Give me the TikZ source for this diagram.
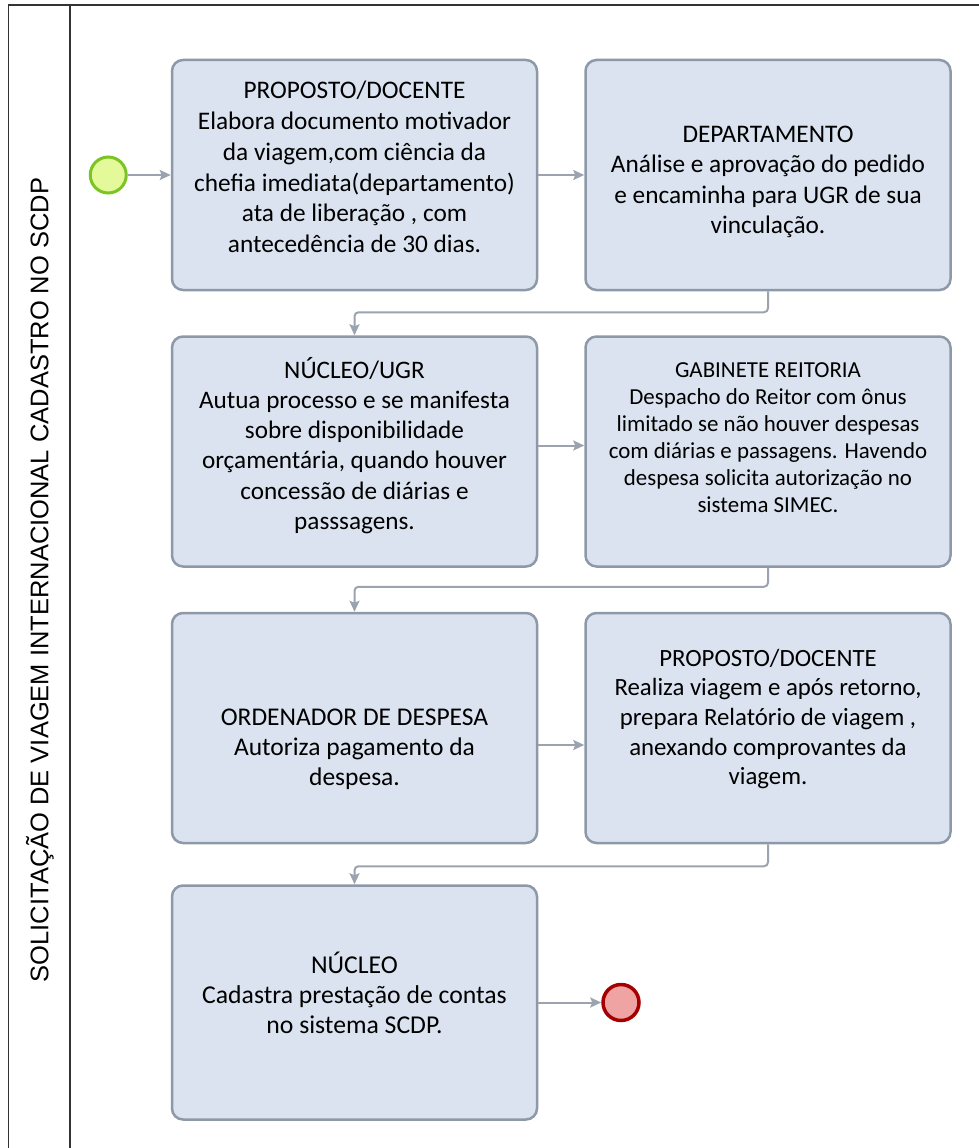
\documentclass[tikz,border=0pt]{standalone}
\usepackage{fontspec}
\setmainfont{Carlito}
\newfontfamily\titlefont{Liberation Sans}
\usetikzlibrary{arrows.meta,positioning}
\definecolor{boxfill}{HTML}{DAE3EF}
\definecolor{boxline}{HTML}{8E99A8}
\definecolor{flowgray}{HTML}{9AA3AE}
\definecolor{startfill}{HTML}{E4F99A}
\definecolor{startline}{HTML}{7CC423}
\definecolor{endfill}{HTML}{EFA3A3}
\definecolor{endline}{HTML}{A50000}

\begin{document}
\begin{tikzpicture}[x=1pt,y=-1pt,>={Stealth[length=11pt,width=10pt,inset=2pt]},
  box/.style={draw=boxline,line width=2.5pt,fill=boxfill,rounded corners=11pt,minimum width=365pt,minimum height=230pt,inner sep=0pt},
  txt/.style 2 args={align=center,font=\fontsize{#1}{#2}\selectfont},
  flow/.style={->,draw=flowgray,line width=2pt,rounded corners=4pt},
  event/.style={circle,minimum size=36pt,inner sep=0pt,line width=3pt},
  node distance=44pt and 46pt]
\useasboundingbox (0,0) rectangle (979,1148);
% raia
\draw[line width=1.6pt,black!80] (979,5) -- (8.5,5) -- (8.5,1148) (70,5) -- (70,1148);
\node[rotate=90,font=\titlefont\fontsize{25.5}{30}\selectfont] (lane) at (40,580) {SOLICITAÇÃO DE VIAGEM INTERNACIONAL CADASTRO NO SCDP};
% atividades
\node[box] (pd1) at (354.5,175) {};
\node[txt={25.3}{30.8}] (pd1-t) at ([yshift=8pt]pd1.center) {PROPOSTO/DOCENTE\\Elabora documento motivador\\da viagem,com ciência da\\chefia imediata(departamento)\\ata de liberação , com\\antecedência de 30 dias.};
\node[box,right=of pd1] (dep) {};
\node[txt={25.3}{30.5}] (dep-t) at ([yshift=-7pt]dep.center) {DEPARTAMENTO\\Análise e aprovação do pedido\\e encaminha para UGR de sua\\vinculação.};
\node[box,below=of pd1] (nuc) {};
\node[txt={25.2}{30.2}] (nuc-t) at ([yshift=6pt]nuc.center) {NÚCLEO/UGR\\Autua processo e se manifesta\\sobre disponibilidade\\orçamentária, quando houver\\concessão de diárias e\\passsagens.};
\node[box,right=of nuc] (gab) {};
\node[txt={22.9}{27}] (gab-t) at ([yshift=14pt]gab.center) {GABINETE REITORIA\\Despacho do Reitor com ônus\\limitado se não houver despesas\\com diárias e passagens. Havendo\\despesa solicita autorização no\\sistema SIMEC.};
\node[box,below=of nuc] (ord) {};
\node[txt={25.5}{30}] (ord-t) at ([yshift=-21pt]ord.center) {ORDENADOR DE DESPESA\\Autoriza pagamento da\\despesa.};
\node[box,right=of ord] (pd2) {};
\node[txt={24.8}{29.7}] (pd2-t) at ([yshift=9pt]pd2.center) {PROPOSTO/DOCENTE\\Realiza viagem e após retorno,\\prepara Relatório de viagem ,\\anexando comprovantes da\\viagem.};
\node[box,below=40pt of ord,minimum height=234pt] (nuc2) {};
\node[txt={25.7}{30}] (nuc2-t) at ([yshift=10pt]nuc2.center) {NÚCLEO\\Cadastra prestação de contas\\no sistema SCDP.};
% eventos
\node[event,fill=startfill,draw=startline,left=43pt of pd1] (inicio) {};
\node[event,fill=endfill,draw=endline,line width=3.5pt,right=63pt of nuc2] (fim) {};
% fluxo
\draw[flow] (inicio) -- (pd1);
\draw[flow] (pd1) -- (dep);
\draw[flow] (dep.south) -- ++(0,21) -| (nuc.north);
\draw[flow] ([yshift=6pt]nuc.east) -- ([yshift=6pt]nuc.east -| gab.west);
\draw[flow] (gab.south) -- ++(0,19) -| (ord.north);
\draw[flow] ([yshift=-17pt]ord.east) -- ([yshift=-17pt]ord.east -| pd2.west);
\draw[flow] (pd2.south) -- ++(0,22) -| (nuc2.north);
\draw[flow] (nuc2) -- (fim);
\end{tikzpicture}
\end{document}
